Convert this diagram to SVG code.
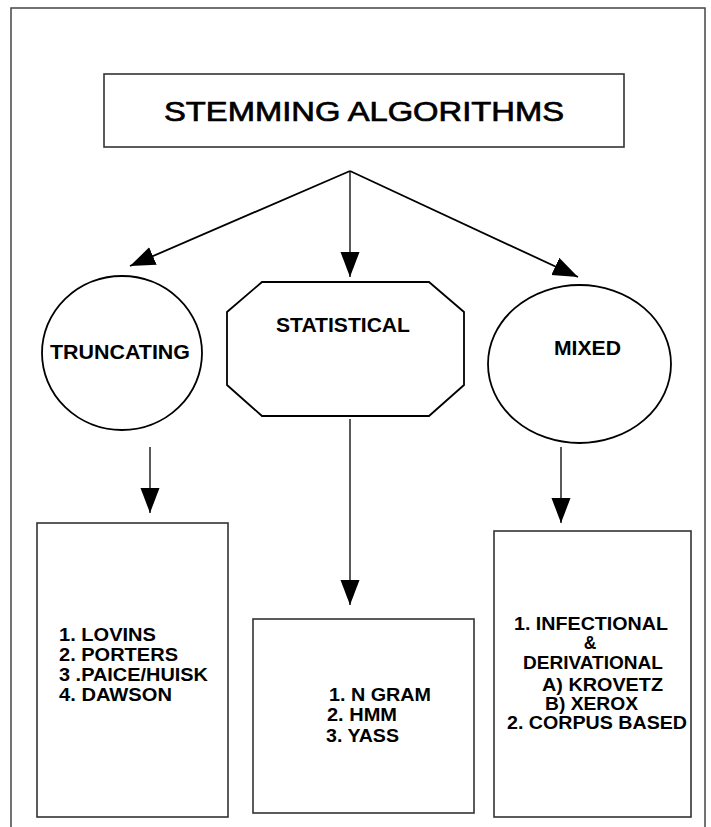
<svg xmlns="http://www.w3.org/2000/svg" width="711" height="827" viewBox="0 0 711 827">
<style>
.frame{fill:none;stroke:#444;stroke-width:1.5}
.box{fill:#fff;stroke:#333;stroke-width:1.6}
.shape{fill:#fff;stroke:#000;stroke-width:1.8}
.conn{fill:none;stroke:#000;stroke-width:1.8}
.vconn{fill:none;stroke:#000;stroke-width:1.3}
.title{font-family:"Liberation Sans",Arial,sans-serif;font-size:27px;fill:#000;stroke:#000;stroke-width:0.7}
.lbl{font-family:"Liberation Sans",Arial,sans-serif;font-size:20px;font-weight:bold;fill:#000}
.item{font-family:"Liberation Sans",Arial,sans-serif;font-size:17.5px;font-weight:bold;fill:#000}
</style>
<defs>
<marker id="arr" markerUnits="userSpaceOnUse" markerWidth="26" markerHeight="20" refX="25" refY="9.5" orient="auto" viewBox="0 0 26 20">
<path d="M0,0 L25,9.5 L0,19 z" fill="#000"/>
</marker>
</defs>
<rect class="frame" x="11" y="8" width="694" height="830"/>

<g id="title">
<rect class="box" x="104" y="74" width="520" height="73"/>
<text class="title" x="164" y="121" textLength="400" lengthAdjust="spacingAndGlyphs">STEMMING ALGORITHMS</text>
</g>

<g id="truncating">
<ellipse class="shape" cx="122" cy="353" rx="80" ry="77"/>
<text class="lbl" x="50" y="359" textLength="140" lengthAdjust="spacingAndGlyphs">TRUNCATING</text>
</g>

<g id="statistical">
<polygon class="shape" points="262,282 429,282 464,312 464,385 429,416 262,416 227,385 227,312"/>
<text class="lbl" x="276" y="332" textLength="134" lengthAdjust="spacingAndGlyphs">STATISTICAL</text>
</g>

<g id="mixed">
<ellipse class="shape" cx="579.5" cy="364" rx="91.5" ry="79"/>
<text class="lbl" x="554" y="355" textLength="67" lengthAdjust="spacingAndGlyphs">MIXED</text>
</g>

<g id="truncating-list">
<rect class="box" x="37" y="523" width="191" height="294"/>
<text class="item" x="59" y="641" textLength="97" lengthAdjust="spacingAndGlyphs">1. LOVINS</text>
<text class="item" x="59" y="661" textLength="119" lengthAdjust="spacingAndGlyphs">2. PORTERS</text>
<text class="item" x="59" y="681" textLength="149" lengthAdjust="spacingAndGlyphs">3 .PAICE/HUISK</text>
<text class="item" x="59" y="701" textLength="113" lengthAdjust="spacingAndGlyphs">4. DAWSON</text>
</g>

<g id="statistical-list">
<rect class="box" x="253" y="619" width="221" height="194"/>
<text class="item" x="329" y="701" textLength="102" lengthAdjust="spacingAndGlyphs">1. N GRAM</text>
<text class="item" x="327" y="721" textLength="70" lengthAdjust="spacingAndGlyphs">2. HMM</text>
<text class="item" x="326" y="742" textLength="73" lengthAdjust="spacingAndGlyphs">3. YASS</text>
</g>

<g id="mixed-list">
<rect class="box" x="494" y="531" width="197" height="286"/>
<text class="item" x="514" y="630" textLength="154" lengthAdjust="spacingAndGlyphs">1. INFECTIONAL</text>
<text class="item" x="590" y="649" text-anchor="middle">&amp;</text>
<text class="item" x="523" y="669" textLength="140" lengthAdjust="spacingAndGlyphs">DERIVATIONAL</text>
<text class="item" x="542" y="691" textLength="121" lengthAdjust="spacingAndGlyphs">A) KROVETZ</text>
<text class="item" x="545" y="710" textLength="93" lengthAdjust="spacingAndGlyphs">B) XEROX</text>
<text class="item" x="507" y="729" textLength="180" lengthAdjust="spacingAndGlyphs">2. CORPUS BASED</text>
</g>

<g id="connectors">
<line class="conn" x1="350" y1="171" x2="130" y2="266" marker-end="url(#arr)"/>
<line class="vconn" x1="350" y1="171" x2="350" y2="277" marker-end="url(#arr)"/>
<line class="conn" x1="350" y1="171" x2="578" y2="277" marker-end="url(#arr)"/>
<line class="vconn" x1="150" y1="447" x2="150" y2="513" marker-end="url(#arr)"/>
<line class="vconn" x1="350" y1="419" x2="350" y2="605" marker-end="url(#arr)"/>
<line class="vconn" x1="561" y1="447" x2="561" y2="523" marker-end="url(#arr)"/>
</g>
</svg>
